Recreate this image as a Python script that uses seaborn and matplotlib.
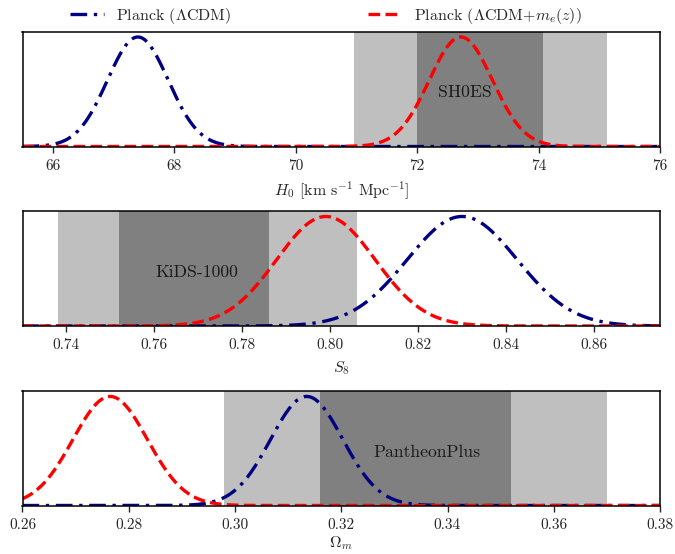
import numpy as np
import pandas as pd
import matplotlib
matplotlib.use("Agg")
import matplotlib.pyplot as plt
from matplotlib.lines import Line2D
import seaborn as sns

sns.set_style("white")
plt.rcParams["font.family"] = ["serif"]
plt.rcParams["font.serif"] = ["cmr10", "DejaVu Serif"]
plt.rcParams["mathtext.fontset"] = "cm"
plt.rcParams["axes.formatter.use_mathtext"] = True
plt.rcParams["axes.unicode_minus"] = False

# Parameters shown in each panel
params = ["H0", "S8", "Om"]
xlabels = [r"$H_0$ [km s$^{-1}$ Mpc$^{-1}$]", r"$S_8$", r"$\Omega_m$"]
xlims = [(65.5, 76.0), (0.73, 0.875), (0.26, 0.38)]
xticks = [[66, 68, 70, 72, 74, 76],
          [0.74, 0.76, 0.78, 0.80, 0.82, 0.84, 0.86],
          [0.26, 0.28, 0.30, 0.32, 0.34, 0.36, 0.38]]
tick_fmt = ["{:.0f}", "{:.2f}", "{:.2f}"]

# Posterior summaries (mean, standard deviation)
lcdm_mean = [67.40, 0.830, 0.3135]
lcdm_sigma = [0.50, 0.0125, 0.0068]
me_mean = [72.72, 0.799, 0.2765]
me_sigma = [0.52, 0.0112, 0.0070]

# External measurements: name, 1-sigma and 2-sigma intervals
probe_names = ["SH0ES", "KiDS-1000", "PantheonPlus"]
probe_1sig = [(72.00, 74.08), (0.752, 0.786), (0.316, 0.352)]
probe_2sig = [(70.96, 75.12), (0.738, 0.806), (0.298, 0.370)]
probe_label_x = [72.79, 0.7696, 0.3361]
probe_label_y = [0.474, 0.47, 0.467]

series_names = [r"Planck ($\Lambda$CDM)", r"Planck ($\Lambda$CDM+$m_e(z)$)"]
series_colors = {series_names[0]: "#000080", series_names[1]: "#ff0000"}
series_dashes = {series_names[0]: (5, 2, 1, 2), series_names[1]: (3.5, 1.6)}

fig = plt.figure(figsize=(6.75, 5.54), dpi=100)
ax_boxes = [(22.5, 31.5, 146.5), (22.5, 211, 326), (22.5, 391, 505.5)]
label_pads = [5, 5, 2]
W, H = 675.0, 554.0
right_px = 660.0

axes = []
for (lpx, tpx, bpx) in ax_boxes:
    ax = fig.add_axes([lpx / W, 1 - bpx / H, (right_px - lpx) / W, (bpx - tpx) / H])
    axes.append(ax)

for i, ax in enumerate(axes):
    lo, hi = xlims[i]
    x = np.linspace(lo, hi, 800)
    rows = []
    for name, mu, sd in [(series_names[0], lcdm_mean[i], lcdm_sigma[i]),
                         (series_names[1], me_mean[i], me_sigma[i])]:
        y = np.exp(-0.5 * ((x - mu) / sd) ** 2)
        rows.append(pd.DataFrame({"x": x, "p": y, "model": name}))
    df = pd.concat(rows, ignore_index=True)

    ax.axvspan(*probe_2sig[i], color="#bfbfbf", lw=0, zorder=0)
    ax.axvspan(*probe_1sig[i], color="#808080", lw=0, zorder=0)
    ax.text(probe_label_x[i], probe_label_y[i], probe_names[i],
            transform=ax.get_xaxis_transform(), ha="center", va="center",
            fontsize=12.7, color="#1a1a1a", zorder=1)

    sns.lineplot(data=df, x="x", y="p", hue="model", style="model",
                 palette=series_colors, dashes=series_dashes,
                 linewidth=2.4, ax=ax, legend=False, zorder=2)

    ax.set_xlim(lo, hi)
    ax.set_ylim(0, 1.05)
    ax.set_yticks([])
    ax.set_ylabel("")
    ax.set_xticks(xticks[i])
    ax.set_xticklabels([tick_fmt[i].format(t) for t in xticks[i]])
    ax.set_xlabel(xlabels[i], fontsize=11.5, labelpad=label_pads[i])
    ax.tick_params(axis="x", direction="out", length=4, width=1, labelsize=11,
                   bottom=True, pad=5)
    for s in ax.spines.values():
        s.set_linewidth(1.1)
        s.set_color("black")

handles = [Line2D([], [], color=series_colors[n], lw=2.4, dashes=series_dashes[n])
           for n in series_names]
fig.legend(handles, series_names, loc="upper center", bbox_to_anchor=(0.483, 1.015),
           ncol=2, frameon=False, fontsize=11.5, handlelength=2.1,
           columnspacing=8.6, handletextpad=0.75)

fig.savefig("out.png", dpi=100)
